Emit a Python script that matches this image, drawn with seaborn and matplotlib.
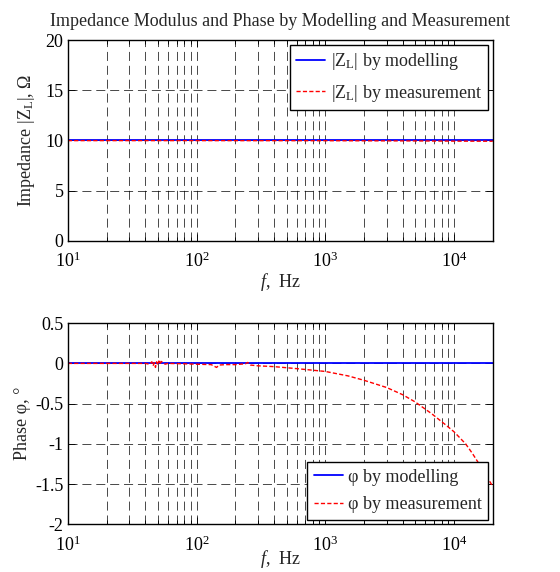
import numpy as np
import pandas as pd
import seaborn as sns
import matplotlib
matplotlib.use('Agg')
import matplotlib.pyplot as plt
from matplotlib.ticker import LogLocator, NullLocator, NullFormatter

# DATA
freq_model = [10, 20000]
mag_model = [10.0, 10.0]
phase_model = [0.0, 0.0]

freq_mag_meas = [10, 100, 1000, 5000, 10000, 20000]
mag_meas = [9.98, 9.98, 9.97, 9.95, 9.93, 9.92]

freq_phase_meas = [10, 20, 30, 40, 43, 45, 46, 47, 48, 49, 50, 51, 52, 53, 55, 57, 60,
                   80, 100, 130, 143, 150, 170, 200, 240, 250, 262, 300, 400, 600,
                   1000, 1500, 2000, 3000, 4000, 5000, 6700, 8700, 10000, 12300,
                   13900, 15800, 18000, 20000]
phase_meas = [0.0, 0.0, 0.0, 0.0, -0.01, 0.02, -0.03, 0.01, -0.05, 0.02, -0.02, 0.03,
              -0.01, 0.025, 0.01, -0.01, 0.0, -0.005, -0.01, -0.015, -0.05, -0.02,
              -0.015, -0.015, -0.005, 0.012, -0.02, -0.03, -0.04, -0.065, -0.10,
              -0.155, -0.21, -0.30, -0.39, -0.48, -0.625, -0.77, -0.85, -1.0, -1.12,
              -1.26, -1.41, -1.53]

mag_yticks = [0, 5, 10, 15, 20]
phase_yticks = [-2, -1.5, -1, -0.5, 0, 0.5]

# STYLE
sns.set_style('ticks')
plt.rcParams['font.family'] = ['Liberation Serif', 'DejaVu Serif']
plt.rcParams['mathtext.fontset'] = 'custom'
plt.rcParams['mathtext.rm'] = 'Liberation Serif'
plt.rcParams['mathtext.it'] = 'Liberation Serif:italic'
plt.rcParams['axes.unicode_minus'] = False
plt.rcParams['lines.scale_dashes'] = False
plt.rcParams['font.size'] = 13

fig = plt.figure(figsize=(5.6, 5.72), dpi=100)
ax1 = fig.add_axes([0.121, 0.579, 0.759, 0.351])
ax2 = fig.add_axes([0.121, 0.0834, 0.759, 0.3516])

df_mod = pd.DataFrame({'f': freq_model, 'mag': mag_model, 'phase': phase_model})
df_mag = pd.DataFrame({'f': freq_mag_meas, 'mag': mag_meas})
df_ph = pd.DataFrame({'f': freq_phase_meas, 'phase': phase_meas})

sns.lineplot(data=df_mod, x='f', y='mag', ax=ax1, color='blue', lw=1.3,
             label='|Z$_\\mathrm{L}$| by modelling')
sns.lineplot(data=df_mag, x='f', y='mag', ax=ax1, color='red', lw=1.0,
             dashes=(3, 1.6), label='|Z$_\\mathrm{L}$| by measurement')
sns.lineplot(data=df_mod, x='f', y='phase', ax=ax2, color='blue', lw=1.3,
             label='φ by modelling')
sns.lineplot(data=df_ph, x='f', y='phase', ax=ax2, color='red', lw=1.0,
             dashes=(3, 1.6), label='φ by measurement')

for ax, yt in [(ax1, mag_yticks), (ax2, phase_yticks)]:
    ax.set_xscale('log')
    ax.set_xlim(10, 20000)
    ax.set_ylim(yt[0], yt[-1])
    ax.set_yticks(yt)
    ax.set_yticklabels([('%g' % v) for v in yt])
    ax.xaxis.set_major_locator(LogLocator(base=10, numticks=10))
    ax.xaxis.set_minor_locator(LogLocator(base=10, subs=np.arange(2, 10), numticks=20))
    ax.xaxis.set_minor_formatter(NullFormatter())
    ax.yaxis.set_minor_locator(NullLocator())
    ax.tick_params(which='both', direction='in', top=True, right=True, labelsize=13,
                   width=0.6, colors='black')
    ax.tick_params(which='major', length=5)
    ax.tick_params(which='minor', length=3)
    ax.tick_params(axis='x', which='major', pad=8)
    ax.tick_params(axis='y', which='major', pad=3)
    ax.grid(True, which='major', color='black', lw=0.5, dashes=(6.5, 3.5))
    ax.grid(True, which='minor', axis='x', color='black', lw=0.5, dashes=(6.5, 3.5))
    for s in ax.spines.values():
        s.set_linewidth(1.0)
        s.set_color('black')

ax1.set_xlabel('$f$,  Hz', fontsize=13, labelpad=0)
ax2.set_xlabel('$f$,  Hz', fontsize=13, labelpad=-5)
ax1.set_ylabel('Impedance |Z$_\\mathrm{L}$|, Ω', fontsize=13, labelpad=6)
ax2.set_ylabel('Phase φ, °', fontsize=13, labelpad=3)
ax1.set_title('Impedance Modulus and Phase by Modelling and Measurement', fontsize=13, pad=10)

for ax, where in [(ax1, 'upper right'), (ax2, 'lower right')]:
    leg = ax.legend(loc=where, fontsize=13, frameon=True, fancybox=False, framealpha=1,
                    edgecolor='black', handlelength=1.6, borderaxespad=0.25,
                    borderpad=0.35, labelspacing=0.6, handletextpad=0.3)
    leg.get_frame().set_linewidth(1.0)

fig.savefig('out.png', dpi=100)
